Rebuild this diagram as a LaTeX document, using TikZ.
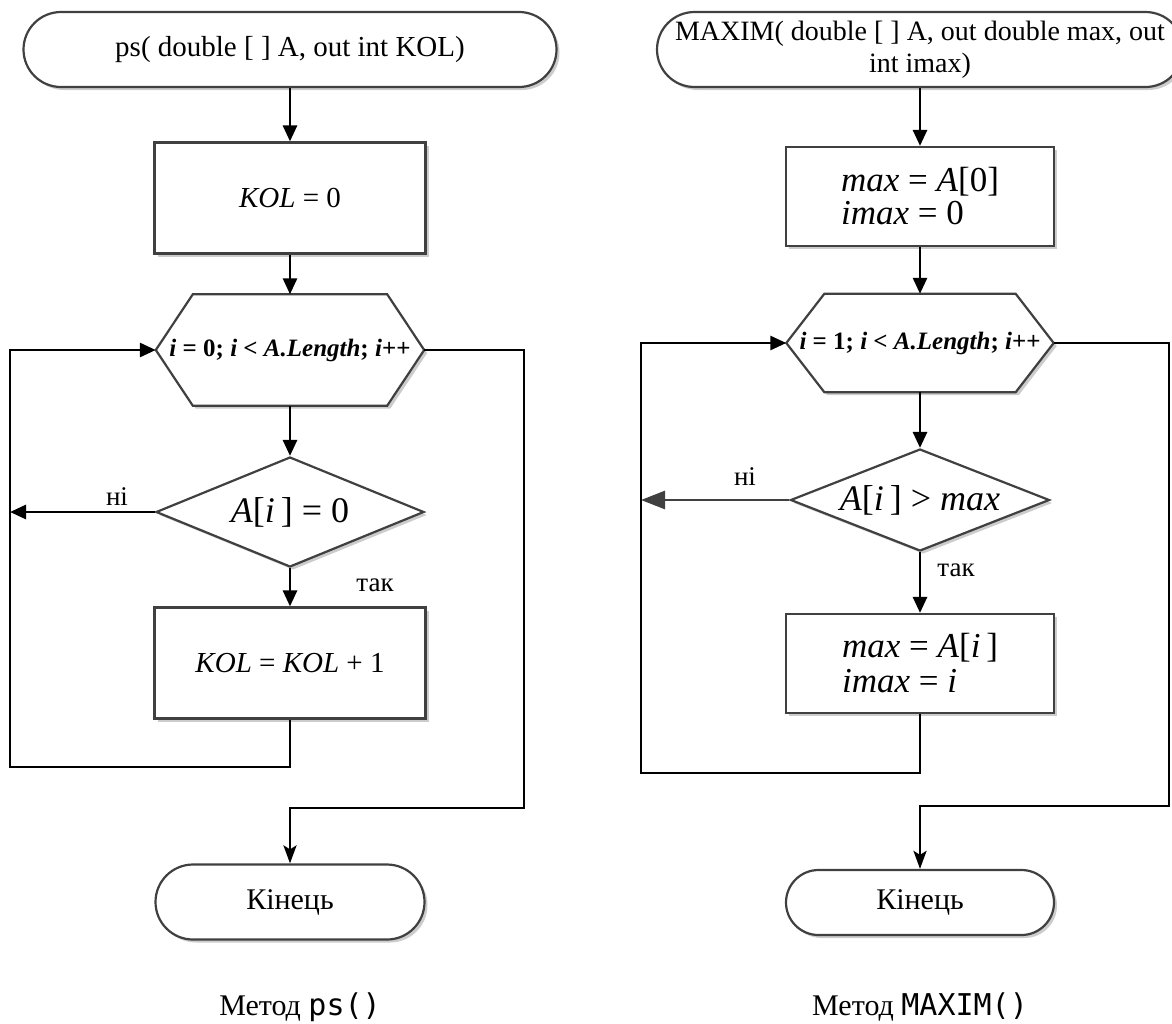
\documentclass[tikz,border=0pt]{standalone}
\usepackage{fontspec}
\setmainfont{Liberation Serif}
\setmonofont{DejaVu Sans Mono}
\usetikzlibrary{shapes.geometric,shadows,arrows.meta,backgrounds}
\definecolor{edgec}{RGB}{64,64,64}
\tikzset{
  shp/.style={draw=edgec, line width=2.2pt, fill=white,
    drop shadow={shadow xshift=3pt, shadow yshift=-3pt, opacity=0.2, fill=black}},
  termbox/.style={shp, rectangle, inner sep=0pt, align=center},
  procbox/.style={shp, rectangle, inner sep=0pt, align=left},
  hexbox/.style={rectangle, inner sep=0pt, draw=none},
  decbox/.style={shp, diamond, inner sep=0pt, aspect=2.4},
  conn/.style={draw=black, line width=2.8pt, -{Triangle[length=16pt,width=14pt]}},
  conns/.style={draw=black, line width=2.8pt, -{Stealth[length=18pt,width=13pt,inset=4pt]}},
  conng/.style={draw=edgec, line width=2.8pt, -{Triangle[length=24pt,width=18pt]}},
  txt/.style={font=\fontsize{29}{32}\selectfont},
  captxt/.style={font=\fontsize{30}{34}\selectfont},
  hextxt/.style={font=\fontsize{25}{30}\selectfont},
  lbl/.style={font=\fontsize{27}{30}\selectfont, inner sep=0pt},
}
\begin{document}
\begin{tikzpicture}[x=1pt,y=-1pt]
\useasboundingbox (0,0) rectangle (1172,1023);
\clip (0,0) rectangle (1172,1023);

% ---------------- left chart ----------------
\node[termbox, minimum width=533pt, minimum height=75pt, rounded corners=37.5pt, txt] (start1) at (290,49.5)
  {ps( double [ ] A, out int KOL)};
\node[procbox, minimum width=271pt, minimum height=111pt, txt] (box1) at (290,198)
  {\textit{KOL} = 0};
\node[hexbox, minimum width=268pt, minimum height=111pt, hextxt] (hex1) at (290,350)
  {\textbf{\textit{i} = 0; \textit{i} < \textit{A.Length}; \textit{i}++}};
\begin{scope}[on background layer]
\draw[shp] (hex1.west) -- ([xshift=37pt]hex1.north west) -- ([xshift=-37pt]hex1.north east)
  -- (hex1.east) -- ([xshift=-37pt]hex1.south east) -- ([xshift=37pt]hex1.south west) -- cycle;
\end{scope}
\node[decbox, minimum width=268pt, minimum height=110pt, font=\fontsize{36}{38}\selectfont] (dia1) at (290,512)
  {\textit{A}[\textit{i}\,] = 0};
\node[procbox, minimum width=271pt, minimum height=111pt, txt] (box2) at (290,663)
  {\textit{KOL} = \textit{KOL} + 1};
\node[termbox, minimum width=269pt, minimum height=75pt, rounded corners=37.5pt, captxt] (end1) at (290,902)
  {Кінець};
\node[captxt] (cap1) at (300,1007) {Метод \texttt{ps()}};

\coordinate (noL1) at (10,512);
\coordinate (loopL1) at (10,767);
\coordinate (exitL1) at (524,808);

\draw[conn] (start1.south) -- (box1.north);
\draw[conn] (box1.south) -- (hex1.north);
\draw[conn] (hex1.south) -- (dia1.north);
\draw[conn] (dia1.south) -- (box2.north);
\draw[conn] (dia1.west) -- (noL1);
\draw[conn] (box2.south) |- (loopL1) |- (hex1.west);
\draw[conns] (hex1.east) -| (exitL1) -| (end1.north);
\node[lbl] (no1) at (117,497) {ні};
\node[lbl] (yes1) at (375,585) {так};

% ---------------- right chart ----------------
\node[termbox, minimum width=526pt, minimum height=75pt, rounded corners=37.5pt, font=\fontsize{28}{32}\selectfont] (start2) at (920,49.5)
  {MAXIM( double [ ] A, out double max, out\\int imax)};
\node[procbox, minimum width=268pt, minimum height=99pt, font=\fontsize{35}{33}\selectfont] (box3) at (920,196.5)
  {\textit{max} = \textit{A}[0]\\\textit{imax} = 0};
\node[hexbox, minimum width=267pt, minimum height=98pt, hextxt] (hex2) at (920,343)
  {\textbf{\textit{i} = 1; \textit{i} < \textit{A.Length}; \textit{i}++}};
\begin{scope}[on background layer]
\draw[shp] (hex2.west) -- ([xshift=38pt]hex2.north west) -- ([xshift=-38pt]hex2.north east)
  -- (hex2.east) -- ([xshift=-38pt]hex2.south east) -- ([xshift=38pt]hex2.south west) -- cycle;
\end{scope}
\node[decbox, minimum width=259pt, minimum height=102pt, font=\fontsize{36}{38}\selectfont] (dia2) at (920,500)
  {\textit{A}[\textit{i}\,] > \textit{max}};
\node[procbox, minimum width=268pt, minimum height=99pt, font=\fontsize{35}{35}\selectfont] (box4) at (920,663.5)
  {\textit{max} = \textit{A}[\textit{i}\,]\\\textit{imax} = \textit{i}};
\node[termbox, minimum width=268pt, minimum height=65pt, rounded corners=32.5pt, captxt] (end2) at (920,902.5)
  {Кінець};
\node[captxt] (cap2) at (920,1007) {Метод \texttt{MAXIM()}};

\coordinate (noL2) at (641,500);
\coordinate (loopL2) at (641,773);
\coordinate (exitL2) at (1169,806);

\draw[conn] (start2.south) -- (box3.north);
\draw[conn] (box3.south) -- (hex2.north);
\draw[conn] (hex2.south) -- (dia2.north);
\draw[conn] (dia2.south) -- (box4.north);
\draw[conng] (dia2.west) -- (noL2);
\draw[conn] (box4.south) |- (loopL2) |- (hex2.west);
\draw[conns] (hex2.east) -| (exitL2) -| (end2.north);
\node[lbl] (no2) at (745,477) {ні};
\node[lbl] (yes2) at (956,570) {так};
\end{tikzpicture}
\end{document}
